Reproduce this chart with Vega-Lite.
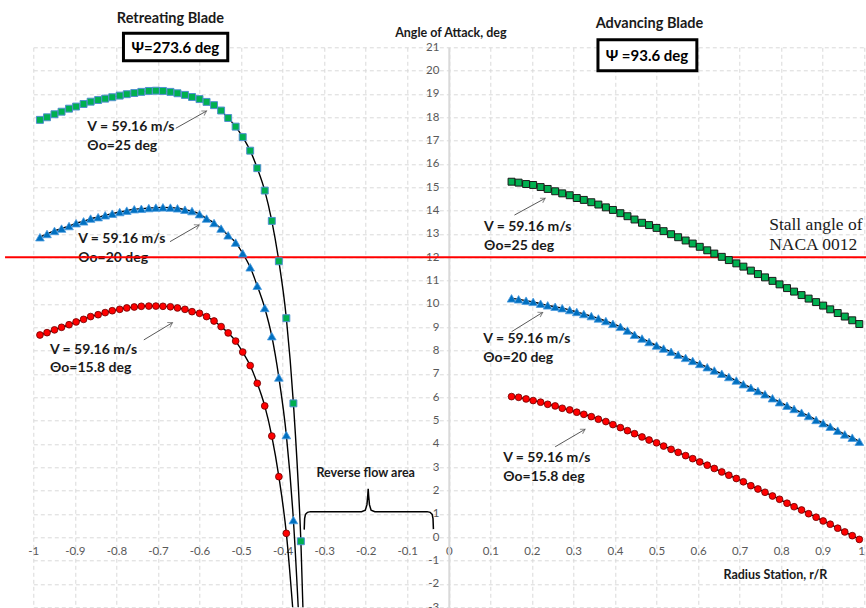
{
  "$schema": "https://vega.github.io/schema/vega-lite/v6.json",
  "width": 831,
  "height": 560,
  "autosize": {"type": "none"},
  "padding": {"left": 33.3, "top": 47.3, "right": 1.7, "bottom": 0.7},
  "background": "white",
  "config": {
    "view": {"stroke": null},
    "font": "Lato"
  },
  "datasets": {
    "curves": [
      {"x":-0.984,"a":17.89,"t":"25","s":"R"},{"x":-0.967,"a":18.00,"t":"25","s":"R"},{"x":-0.949,"a":18.13,"t":"25","s":"R"},{"x":-0.932,"a":18.24,"t":"25","s":"R"},{"x":-0.914,"a":18.37,"t":"25","s":"R"},{"x":-0.897,"a":18.46,"t":"25","s":"R"},{"x":-0.879,"a":18.57,"t":"25","s":"R"},{"x":-0.862,"a":18.67,"t":"25","s":"R"},{"x":-0.844,"a":18.74,"t":"25","s":"R"},{"x":-0.827,"a":18.80,"t":"25","s":"R"},{"x":-0.810,"a":18.86,"t":"25","s":"R"},{"x":-0.792,"a":18.93,"t":"25","s":"R"},{"x":-0.775,"a":18.99,"t":"25","s":"R"},{"x":-0.757,"a":19.04,"t":"25","s":"R"},{"x":-0.740,"a":19.09,"t":"25","s":"R"},{"x":-0.722,"a":19.13,"t":"25","s":"R"},{"x":-0.705,"a":19.14,"t":"25","s":"R"},{"x":-0.688,"a":19.13,"t":"25","s":"R"},{"x":-0.670,"a":19.09,"t":"25","s":"R"},{"x":-0.653,"a":19.03,"t":"25","s":"R"},{"x":-0.635,"a":18.96,"t":"25","s":"R"},{"x":-0.618,"a":18.87,"t":"25","s":"R"},{"x":-0.600,"a":18.78,"t":"25","s":"R"},{"x":-0.583,"a":18.66,"t":"25","s":"R"},{"x":-0.565,"a":18.52,"t":"25","s":"R"},{"x":-0.548,"a":18.29,"t":"25","s":"R"},{"x":-0.531,"a":17.97,"t":"25","s":"R"},{"x":-0.513,"a":17.60,"t":"25","s":"R"},{"x":-0.496,"a":17.15,"t":"25","s":"R"},{"x":-0.478,"a":16.57,"t":"25","s":"R"},{"x":-0.461,"a":15.82,"t":"25","s":"R"},{"x":-0.443,"a":14.86,"t":"25","s":"R"},{"x":-0.426,"a":13.56,"t":"25","s":"R"},{"x":-0.409,"a":11.83,"t":"25","s":"R"},{"x":-0.391,"a":9.39,"t":"25","s":"R"},{"x":-0.374,"a":5.74,"t":"25","s":"R"},{"x":-0.356,"a":-0.17,"t":"25","s":"R"},{"x":-0.339,"a":-10.0,"t":"25","s":"R"},

      {"x":-0.984,"a":12.86,"t":"20","s":"R"},{"x":-0.967,"a":13.00,"t":"20","s":"R"},{"x":-0.949,"a":13.13,"t":"20","s":"R"},{"x":-0.932,"a":13.23,"t":"20","s":"R"},{"x":-0.914,"a":13.34,"t":"20","s":"R"},{"x":-0.897,"a":13.46,"t":"20","s":"R"},{"x":-0.879,"a":13.54,"t":"20","s":"R"},{"x":-0.862,"a":13.66,"t":"20","s":"R"},{"x":-0.844,"a":13.72,"t":"20","s":"R"},{"x":-0.827,"a":13.80,"t":"20","s":"R"},{"x":-0.810,"a":13.87,"t":"20","s":"R"},{"x":-0.792,"a":13.94,"t":"20","s":"R"},{"x":-0.775,"a":14.00,"t":"20","s":"R"},{"x":-0.757,"a":14.06,"t":"20","s":"R"},{"x":-0.740,"a":14.08,"t":"20","s":"R"},{"x":-0.722,"a":14.11,"t":"20","s":"R"},{"x":-0.705,"a":14.13,"t":"20","s":"R"},{"x":-0.688,"a":14.14,"t":"20","s":"R"},{"x":-0.670,"a":14.13,"t":"20","s":"R"},{"x":-0.653,"a":14.10,"t":"20","s":"R"},{"x":-0.635,"a":14.04,"t":"20","s":"R"},{"x":-0.618,"a":13.98,"t":"20","s":"R"},{"x":-0.600,"a":13.85,"t":"20","s":"R"},{"x":-0.583,"a":13.66,"t":"20","s":"R"},{"x":-0.565,"a":13.47,"t":"20","s":"R"},{"x":-0.548,"a":13.23,"t":"20","s":"R"},{"x":-0.531,"a":12.94,"t":"20","s":"R"},{"x":-0.513,"a":12.63,"t":"20","s":"R"},{"x":-0.496,"a":12.17,"t":"20","s":"R"},{"x":-0.478,"a":11.57,"t":"20","s":"R"},{"x":-0.461,"a":10.78,"t":"20","s":"R"},{"x":-0.443,"a":9.83,"t":"20","s":"R"},{"x":-0.426,"a":8.62,"t":"20","s":"R"},{"x":-0.409,"a":6.85,"t":"20","s":"R"},{"x":-0.391,"a":4.38,"t":"20","s":"R"},{"x":-0.374,"a":0.74,"t":"20","s":"R"},{"x":-0.356,"a":-5.3,"t":"20","s":"R"},

      {"x":-0.984,"a":8.67,"t":"15.8","s":"R"},{"x":-0.967,"a":8.77,"t":"15.8","s":"R"},{"x":-0.949,"a":8.89,"t":"15.8","s":"R"},{"x":-0.932,"a":9.00,"t":"15.8","s":"R"},{"x":-0.914,"a":9.11,"t":"15.8","s":"R"},{"x":-0.897,"a":9.23,"t":"15.8","s":"R"},{"x":-0.879,"a":9.34,"t":"15.8","s":"R"},{"x":-0.862,"a":9.46,"t":"15.8","s":"R"},{"x":-0.844,"a":9.54,"t":"15.8","s":"R"},{"x":-0.827,"a":9.63,"t":"15.8","s":"R"},{"x":-0.810,"a":9.71,"t":"15.8","s":"R"},{"x":-0.792,"a":9.77,"t":"15.8","s":"R"},{"x":-0.775,"a":9.83,"t":"15.8","s":"R"},{"x":-0.757,"a":9.87,"t":"15.8","s":"R"},{"x":-0.740,"a":9.90,"t":"15.8","s":"R"},{"x":-0.722,"a":9.91,"t":"15.8","s":"R"},{"x":-0.705,"a":9.91,"t":"15.8","s":"R"},{"x":-0.688,"a":9.90,"t":"15.8","s":"R"},{"x":-0.670,"a":9.88,"t":"15.8","s":"R"},{"x":-0.653,"a":9.83,"t":"15.8","s":"R"},{"x":-0.635,"a":9.77,"t":"15.8","s":"R"},{"x":-0.618,"a":9.67,"t":"15.8","s":"R"},{"x":-0.600,"a":9.60,"t":"15.8","s":"R"},{"x":-0.583,"a":9.46,"t":"15.8","s":"R"},{"x":-0.565,"a":9.27,"t":"15.8","s":"R"},{"x":-0.548,"a":9.03,"t":"15.8","s":"R"},{"x":-0.531,"a":8.76,"t":"15.8","s":"R"},{"x":-0.513,"a":8.41,"t":"15.8","s":"R"},{"x":-0.496,"a":7.94,"t":"15.8","s":"R"},{"x":-0.478,"a":7.36,"t":"15.8","s":"R"},{"x":-0.461,"a":6.60,"t":"15.8","s":"R"},{"x":-0.443,"a":5.63,"t":"15.8","s":"R"},{"x":-0.426,"a":4.34,"t":"15.8","s":"R"},{"x":-0.409,"a":2.60,"t":"15.8","s":"R"},{"x":-0.391,"a":0.17,"t":"15.8","s":"R"},{"x":-0.374,"a":-3.4,"t":"15.8","s":"R"},

      {"x":0.151,"a":15.24,"t":"25","s":"A"},{"x":0.168,"a":15.20,"t":"25","s":"A"},{"x":0.186,"a":15.14,"t":"25","s":"A"},{"x":0.203,"a":15.10,"t":"25","s":"A"},{"x":0.221,"a":15.01,"t":"25","s":"A"},{"x":0.238,"a":14.93,"t":"25","s":"A"},{"x":0.256,"a":14.83,"t":"25","s":"A"},{"x":0.273,"a":14.74,"t":"25","s":"A"},{"x":0.291,"a":14.66,"t":"25","s":"A"},{"x":0.308,"a":14.54,"t":"25","s":"A"},{"x":0.325,"a":14.46,"t":"25","s":"A"},{"x":0.343,"a":14.36,"t":"25","s":"A"},{"x":0.360,"a":14.26,"t":"25","s":"A"},{"x":0.378,"a":14.14,"t":"25","s":"A"},{"x":0.395,"a":14.03,"t":"25","s":"A"},{"x":0.413,"a":13.89,"t":"25","s":"A"},{"x":0.430,"a":13.76,"t":"25","s":"A"},{"x":0.447,"a":13.62,"t":"25","s":"A"},{"x":0.465,"a":13.48,"t":"25","s":"A"},{"x":0.482,"a":13.38,"t":"25","s":"A"},{"x":0.500,"a":13.26,"t":"25","s":"A"},{"x":0.517,"a":13.12,"t":"25","s":"A"},{"x":0.535,"a":12.99,"t":"25","s":"A"},{"x":0.552,"a":12.86,"t":"25","s":"A"},{"x":0.570,"a":12.72,"t":"25","s":"A"},{"x":0.587,"a":12.59,"t":"25","s":"A"},{"x":0.604,"a":12.45,"t":"25","s":"A"},{"x":0.622,"a":12.30,"t":"25","s":"A"},{"x":0.639,"a":12.16,"t":"25","s":"A"},{"x":0.657,"a":12.02,"t":"25","s":"A"},{"x":0.674,"a":11.88,"t":"25","s":"A"},{"x":0.692,"a":11.74,"t":"25","s":"A"},{"x":0.709,"a":11.60,"t":"25","s":"A"},{"x":0.727,"a":11.43,"t":"25","s":"A"},{"x":0.744,"a":11.28,"t":"25","s":"A"},{"x":0.761,"a":11.14,"t":"25","s":"A"},{"x":0.779,"a":10.99,"t":"25","s":"A"},{"x":0.796,"a":10.84,"t":"25","s":"A"},{"x":0.814,"a":10.68,"t":"25","s":"A"},{"x":0.831,"a":10.53,"t":"25","s":"A"},{"x":0.849,"a":10.38,"t":"25","s":"A"},{"x":0.866,"a":10.23,"t":"25","s":"A"},{"x":0.884,"a":10.08,"t":"25","s":"A"},{"x":0.901,"a":9.93,"t":"25","s":"A"},{"x":0.918,"a":9.77,"t":"25","s":"A"},{"x":0.936,"a":9.61,"t":"25","s":"A"},{"x":0.953,"a":9.46,"t":"25","s":"A"},{"x":0.971,"a":9.30,"t":"25","s":"A"},{"x":0.988,"a":9.14,"t":"25","s":"A"},

      {"x":0.151,"a":10.24,"t":"20","s":"A"},{"x":0.168,"a":10.20,"t":"20","s":"A"},{"x":0.186,"a":10.14,"t":"20","s":"A"},{"x":0.203,"a":10.09,"t":"20","s":"A"},{"x":0.221,"a":10.01,"t":"20","s":"A"},{"x":0.238,"a":9.94,"t":"20","s":"A"},{"x":0.256,"a":9.88,"t":"20","s":"A"},{"x":0.273,"a":9.82,"t":"20","s":"A"},{"x":0.291,"a":9.74,"t":"20","s":"A"},{"x":0.308,"a":9.66,"t":"20","s":"A"},{"x":0.325,"a":9.57,"t":"20","s":"A"},{"x":0.343,"a":9.48,"t":"20","s":"A"},{"x":0.360,"a":9.38,"t":"20","s":"A"},{"x":0.378,"a":9.27,"t":"20","s":"A"},{"x":0.395,"a":9.15,"t":"20","s":"A"},{"x":0.413,"a":9.02,"t":"20","s":"A"},{"x":0.430,"a":8.86,"t":"20","s":"A"},{"x":0.447,"a":8.68,"t":"20","s":"A"},{"x":0.465,"a":8.52,"t":"20","s":"A"},{"x":0.482,"a":8.37,"t":"20","s":"A"},{"x":0.500,"a":8.22,"t":"20","s":"A"},{"x":0.517,"a":8.09,"t":"20","s":"A"},{"x":0.535,"a":7.95,"t":"20","s":"A"},{"x":0.552,"a":7.82,"t":"20","s":"A"},{"x":0.570,"a":7.69,"t":"20","s":"A"},{"x":0.587,"a":7.56,"t":"20","s":"A"},{"x":0.604,"a":7.43,"t":"20","s":"A"},{"x":0.622,"a":7.29,"t":"20","s":"A"},{"x":0.639,"a":7.15,"t":"20","s":"A"},{"x":0.657,"a":7.01,"t":"20","s":"A"},{"x":0.674,"a":6.87,"t":"20","s":"A"},{"x":0.692,"a":6.72,"t":"20","s":"A"},{"x":0.709,"a":6.56,"t":"20","s":"A"},{"x":0.727,"a":6.41,"t":"20","s":"A"},{"x":0.744,"a":6.27,"t":"20","s":"A"},{"x":0.761,"a":6.13,"t":"20","s":"A"},{"x":0.779,"a":5.96,"t":"20","s":"A"},{"x":0.796,"a":5.79,"t":"20","s":"A"},{"x":0.814,"a":5.64,"t":"20","s":"A"},{"x":0.831,"a":5.50,"t":"20","s":"A"},{"x":0.849,"a":5.34,"t":"20","s":"A"},{"x":0.866,"a":5.20,"t":"20","s":"A"},{"x":0.884,"a":5.03,"t":"20","s":"A"},{"x":0.901,"a":4.89,"t":"20","s":"A"},{"x":0.918,"a":4.74,"t":"20","s":"A"},{"x":0.936,"a":4.57,"t":"20","s":"A"},{"x":0.953,"a":4.41,"t":"20","s":"A"},{"x":0.971,"a":4.27,"t":"20","s":"A"},{"x":0.988,"a":4.10,"t":"20","s":"A"},

      {"x":0.151,"a":6.03,"t":"15.8","s":"A"},{"x":0.168,"a":6.00,"t":"15.8","s":"A"},{"x":0.186,"a":5.93,"t":"15.8","s":"A"},{"x":0.203,"a":5.86,"t":"15.8","s":"A"},{"x":0.221,"a":5.79,"t":"15.8","s":"A"},{"x":0.238,"a":5.70,"t":"15.8","s":"A"},{"x":0.256,"a":5.63,"t":"15.8","s":"A"},{"x":0.273,"a":5.53,"t":"15.8","s":"A"},{"x":0.291,"a":5.46,"t":"15.8","s":"A"},{"x":0.308,"a":5.36,"t":"15.8","s":"A"},{"x":0.325,"a":5.27,"t":"15.8","s":"A"},{"x":0.343,"a":5.17,"t":"15.8","s":"A"},{"x":0.360,"a":5.06,"t":"15.8","s":"A"},{"x":0.378,"a":4.96,"t":"15.8","s":"A"},{"x":0.395,"a":4.83,"t":"15.8","s":"A"},{"x":0.413,"a":4.70,"t":"15.8","s":"A"},{"x":0.430,"a":4.57,"t":"15.8","s":"A"},{"x":0.447,"a":4.44,"t":"15.8","s":"A"},{"x":0.465,"a":4.30,"t":"15.8","s":"A"},{"x":0.482,"a":4.17,"t":"15.8","s":"A"},{"x":0.500,"a":4.05,"t":"15.8","s":"A"},{"x":0.517,"a":3.91,"t":"15.8","s":"A"},{"x":0.535,"a":3.77,"t":"15.8","s":"A"},{"x":0.552,"a":3.64,"t":"15.8","s":"A"},{"x":0.570,"a":3.50,"t":"15.8","s":"A"},{"x":0.587,"a":3.37,"t":"15.8","s":"A"},{"x":0.604,"a":3.23,"t":"15.8","s":"A"},{"x":0.622,"a":3.09,"t":"15.8","s":"A"},{"x":0.639,"a":2.95,"t":"15.8","s":"A"},{"x":0.657,"a":2.80,"t":"15.8","s":"A"},{"x":0.674,"a":2.66,"t":"15.8","s":"A"},{"x":0.692,"a":2.52,"t":"15.8","s":"A"},{"x":0.709,"a":2.38,"t":"15.8","s":"A"},{"x":0.727,"a":2.21,"t":"15.8","s":"A"},{"x":0.744,"a":2.07,"t":"15.8","s":"A"},{"x":0.761,"a":1.93,"t":"15.8","s":"A"},{"x":0.779,"a":1.77,"t":"15.8","s":"A"},{"x":0.796,"a":1.63,"t":"15.8","s":"A"},{"x":0.814,"a":1.46,"t":"15.8","s":"A"},{"x":0.831,"a":1.31,"t":"15.8","s":"A"},{"x":0.849,"a":1.17,"t":"15.8","s":"A"},{"x":0.866,"a":1.01,"t":"15.8","s":"A"},{"x":0.884,"a":0.86,"t":"15.8","s":"A"},{"x":0.901,"a":0.70,"t":"15.8","s":"A"},{"x":0.918,"a":0.56,"t":"15.8","s":"A"},{"x":0.936,"a":0.39,"t":"15.8","s":"A"},{"x":0.953,"a":0.23,"t":"15.8","s":"A"},{"x":0.971,"a":0.07,"t":"15.8","s":"A"},{"x":0.988,"a":-0.09,"t":"15.8","s":"A"}
    ],
    "arrows": [
      {"x1":-0.657,"y1":17.53,"x2":-0.583,"y2":18.27},
      {"x1":-0.671,"y1":12.67,"x2":-0.601,"y2":13.39},
      {"x1":-0.734,"y1":8.46,"x2":-0.665,"y2":9.20},
      {"x1":0.158,"y1":13.81,"x2":0.232,"y2":14.53},
      {"x1":0.151,"y1":8.81,"x2":0.226,"y2":9.64},
      {"x1":0.256,"y1":3.88,"x2":0.328,"y2":4.63}
    ],
    "labels": [
      {"x":-0.870,"y":17.60,"text":"V = 59.16 m/s"},
      {"x":-0.870,"y":16.79,"text":"Θo=25 deg"},
      {"x":-0.892,"y":12.79,"text":"V = 59.16 m/s"},
      {"x":-0.892,"y":11.96,"text":"Θo=20 deg"},
      {"x":-0.960,"y":8.03,"text":"V = 59.16 m/s"},
      {"x":-0.960,"y":7.24,"text":"Θo=15.8 deg"},
      {"x":0.085,"y":13.29,"text":"V = 59.16 m/s"},
      {"x":0.085,"y":12.49,"text":"Θo=25 deg"},
      {"x":0.083,"y":8.49,"text":"V = 59.16 m/s"},
      {"x":0.083,"y":7.67,"text":"Θo=20 deg"},
      {"x":0.131,"y":3.39,"text":"V = 59.16 m/s"},
      {"x":0.131,"y":2.60,"text":"Θo=15.8 deg"}
    ],
    "brace": [
      {"i":0,"x":-0.348,"y":0.33},{"i":1,"x":-0.347,"y":0.80},{"i":2,"x":-0.345,"y":0.98},{"i":3,"x":-0.340,"y":1.07},{"i":4,"x":-0.333,"y":1.10},
      {"i":5,"x":-0.210,"y":1.10},{"i":6,"x":-0.201,"y":1.16},{"i":7,"x":-0.197,"y":1.40},{"i":8,"x":-0.195,"y":1.80},{"i":9,"x":-0.194,"y":2.08},
      {"i":10,"x":-0.193,"y":1.80},{"i":11,"x":-0.191,"y":1.40},{"i":12,"x":-0.187,"y":1.16},{"i":13,"x":-0.178,"y":1.10},
      {"i":14,"x":-0.052,"y":1.10},{"i":15,"x":-0.045,"y":1.07},{"i":16,"x":-0.040,"y":0.98},{"i":17,"x":-0.038,"y":0.80},{"i":18,"x":-0.037,"y":0.35}
    ],
    "boxes": [
      {"x":-0.783,"x2":-0.532,"y":21.60,"y2":20.42},
      {"x":0.359,"x2":0.597,"y":21.32,"y2":19.99}
    ],
    "stall": [
      {"x1":-1.068,"x2":1.005,"y":12}
    ]
  },
  "layer": [
    {
      "data": {"name": "curves"},
      "mark": {"type": "line", "interpolate": "monotone", "color": "#000000", "strokeWidth": 1.4, "clip": true},
      "encoding": {
        "x": {"field": "x", "type": "quantitative",
              "scale": {"domain": [-1, 1], "nice": false, "zero": false},
              "axis": {"title": null, "values": [-1,-0.9,-0.8,-0.7,-0.6,-0.5,-0.4,-0.3,-0.2,-0.1,0,0.1,0.2,0.3,0.4,0.5,0.6,0.7,0.8,0.9,1],
                       "tickCount": 40,
                       "labelExpr": "datum.value < 0 ? '-' + format(-datum.value, '.1~f') : format(datum.value, '.1~f')",
                       "labelAlign": {"condition": {"test": "datum.value === 1", "value": "right"}, "value": "center"},
                       "offset": -70, "domain": false, "ticks": false, "labelPadding": 8,
                       "grid": true, "gridColor": "#d9d9d9", "gridDash": [4,3], "gridWidth": 1,
                       "labelColor": "#595959", "labelFont": "Lato", "labelFontSize": 11.5,
                       "labelFlush": false, "labelOverlap": false}},
        "y": {"field": "a", "type": "quantitative",
              "scale": {"domain": [-3, 21], "nice": false, "zero": false},
              "axis": {"title": null, "values": [-3,-2,-1,0,1,2,3,4,5,6,7,8,9,10,11,12,13,14,15,16,17,18,19,20,21],
                       "tickCount": 40,
                       "labelExpr": "datum.value < 0 ? '-' + (-datum.value) : '' + datum.value",
                       "offset": -415.5, "domain": true, "domainColor": "#d9d9d9", "domainWidth": 2,
                       "ticks": false, "labelPadding": 10,
                       "grid": true, "gridColor": "#d9d9d9", "gridDash": [4,3], "gridWidth": 1,
                       "labelColor": "#595959", "labelFont": "Lato", "labelFontSize": 11.5,
                       "labelFlush": false, "labelOverlap": false}},
        "detail": [{"field": "t"}, {"field": "s"}]
      }
    },
    {
      "data": {"name": "labels"},
      "mark": {"type": "text", "align": "left", "baseline": "middle", "font": "Lato", "fontWeight": "bold", "fontSize": 14, "color": "#1a1a1a"},
      "encoding": {
        "x": {"field": "x", "type": "quantitative", "title": null},
        "y": {"field": "y", "type": "quantitative", "title": null},
        "text": {"field": "text"}
      }
    },
    {
      "data": {"name": "arrows"},
      "mark": {"type": "rule", "color": "#595959", "strokeWidth": 1},
      "encoding": {
        "x": {"field": "x1", "type": "quantitative", "title": null},
        "y": {"field": "y1", "type": "quantitative", "title": null},
        "x2": {"field": "x2"},
        "y2": {"field": "y2"}
      }
    },
    {
      "data": {"name": "arrows"},
      "mark": {"type": "point", "shape": "M-0.9,1.5L0,0L0.9,1.5", "filled": false, "stroke": "#595959", "strokeWidth": 1, "size": 36, "angle": 60},
      "encoding": {
        "x": {"field": "x2", "type": "quantitative", "title": null},
        "y": {"field": "y2", "type": "quantitative", "title": null}
      }
    },
    {
      "data": {"name": "stall"},
      "mark": {"type": "rule", "color": "#ff0000", "strokeWidth": 2},
      "encoding": {
        "x": {"field": "x1", "type": "quantitative", "title": null},
        "x2": {"field": "x2"},
        "y": {"field": "y", "type": "quantitative", "title": null}
      }
    },
    {
      "data": {"name": "curves"},
      "transform": [{"filter": "datum.t === '25' && datum.a >= -3"}],
      "mark": {"type": "point", "shape": "square", "filled": true, "fill": "#00b050", "size": 48, "strokeWidth": 1, "opacity": 1},
      "encoding": {
        "x": {"field": "x", "type": "quantitative", "title": null},
        "y": {"field": "a", "type": "quantitative", "title": null},
        "stroke": {"condition": {"test": "datum.s === 'R'", "value": "#4f8fcf"}, "value": "#1a1a1a"}
      }
    },
    {
      "data": {"name": "curves"},
      "transform": [{"filter": "datum.t === '20' && datum.a >= -3"}],
      "mark": {"type": "point", "shape": "triangle-up", "filled": true, "fill": "#0070c0", "size": 75, "strokeWidth": 0.8, "stroke": "#4a9be0", "opacity": 1},
      "encoding": {
        "x": {"field": "x", "type": "quantitative", "title": null},
        "y": {"field": "a", "type": "quantitative", "title": null}
      }
    },
    {
      "data": {"name": "curves"},
      "transform": [{"filter": "datum.t === '15.8' && datum.a >= -3"}],
      "mark": {"type": "point", "shape": "circle", "filled": true, "fill": "#ff0000", "size": 46, "strokeWidth": 0.8, "stroke": "#6b0000", "opacity": 1},
      "encoding": {
        "x": {"field": "x", "type": "quantitative", "title": null},
        "y": {"field": "a", "type": "quantitative", "title": null}
      }
    },
    {
      "data": {"name": "boxes"},
      "mark": {"type": "rect", "fill": "white", "stroke": "black", "strokeWidth": 3},
      "encoding": {
        "x": {"field": "x", "type": "quantitative", "title": null},
        "x2": {"field": "x2"},
        "y": {"field": "y", "type": "quantitative", "title": null},
        "y2": {"field": "y2"}
      }
    },
    {
      "data": {"values": [
        {"x": -0.658, "y": 20.97, "text": "Ψ=273.6 deg"},
        {"x": 0.477, "y": 20.63, "text": "Ψ =93.6 deg"}
      ]},
      "mark": {"type": "text", "align": "center", "baseline": "middle", "font": "Lato", "fontWeight": "bold", "fontSize": 15, "color": "#000000"},
      "encoding": {
        "x": {"field": "x", "type": "quantitative", "title": null},
        "y": {"field": "y", "type": "quantitative", "title": null},
        "text": {"field": "text"}
      }
    },
    {
      "data": {"values": [
        {"x": -0.670, "y": 22.20, "text": "Retreating  Blade"},
        {"x": 0.483, "y": 22.00, "text": "Advancing  Blade"}
      ]},
      "mark": {"type": "text", "align": "center", "baseline": "middle", "font": "Lato", "fontWeight": "bold", "fontSize": 14.5, "color": "#1a1a1a"},
      "encoding": {
        "x": {"field": "x", "type": "quantitative", "title": null},
        "y": {"field": "y", "type": "quantitative", "title": null},
        "text": {"field": "text"}
      }
    },
    {
      "data": {"values": [
        {"x": 0.005, "y": 21.60, "text": "Angle of Attack, deg"},
        {"x": 0.786, "y": -1.62, "text": "Radius Station,  r/R"},
        {"x": -0.200, "y": 2.74, "text": "Reverse flow area"}
      ]},
      "mark": {"type": "text", "align": "center", "baseline": "middle", "font": "Lato", "fontWeight": "bold", "fontSize": 12.5, "color": "#1a1a1a"},
      "encoding": {
        "x": {"field": "x", "type": "quantitative", "title": null},
        "y": {"field": "y", "type": "quantitative", "title": null},
        "text": {"field": "text"}
      }
    },
    {
      "data": {"values": [
        {"x": 0.771, "y": 13.39, "text": "Stall angle of"},
        {"x": 0.771, "y": 12.53, "text": "NACA 0012"}
      ]},
      "mark": {"type": "text", "align": "left", "baseline": "middle", "font": "Liberation Serif", "fontSize": 17.5, "color": "#1a1a1a"},
      "encoding": {
        "x": {"field": "x", "type": "quantitative", "title": null},
        "y": {"field": "y", "type": "quantitative", "title": null},
        "text": {"field": "text"}
      }
    },
    {
      "data": {"name": "brace"},
      "mark": {"type": "line", "color": "#000000", "strokeWidth": 1.5},
      "encoding": {
        "x": {"field": "x", "type": "quantitative", "title": null},
        "y": {"field": "y", "type": "quantitative", "title": null},
        "order": {"field": "i", "type": "quantitative"}
      }
    }
  ]
}
